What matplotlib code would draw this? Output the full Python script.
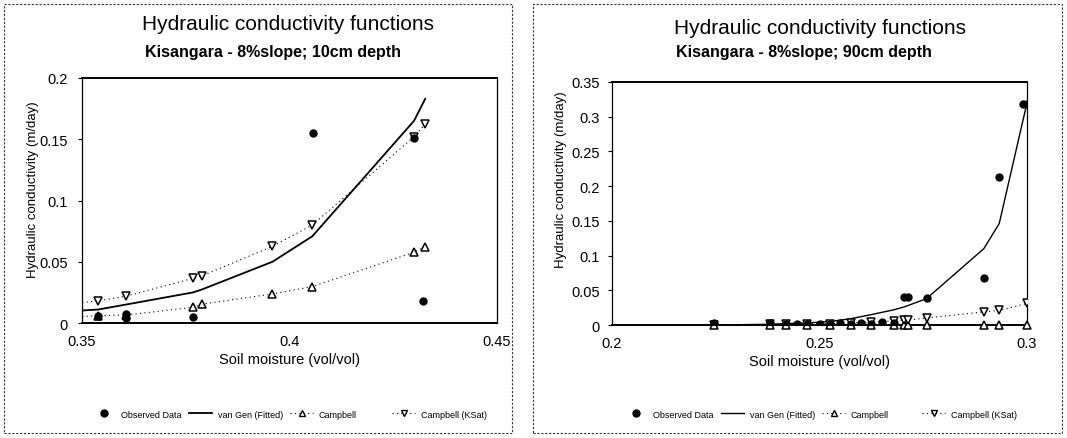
import matplotlib
matplotlib.use("Agg")
import matplotlib.pyplot as plt
from matplotlib.patches import Rectangle
from matplotlib.lines import Line2D

plt.rcParams['font.family'] = ['Liberation Sans', 'DejaVu Sans']

# ---- 10 cm depth ----
obs_theta_10 = [0.3539, 0.3605, 0.3605, 0.3767, 0.4057, 0.4301, 0.4322]
obs_k_10 = [0.0055, 0.0040, 0.0070, 0.0047, 0.1550, 0.1510, 0.0180]

mod_theta_10 = [0.3490, 0.3539, 0.3605, 0.3768, 0.3790, 0.3959, 0.4055, 0.4300, 0.4327]
vangen_10 = [0.0100, 0.0110, 0.0150, 0.0250, 0.0275, 0.0500, 0.0708, 0.1650, 0.1830]
campbell_10 = [0.0050, 0.0060, 0.0065, 0.0128, 0.0155, 0.0237, 0.0297, 0.0577, 0.0623]
campbell_ksat_10 = [0.0160, 0.0182, 0.0218, 0.0365, 0.0386, 0.0626, 0.0800, 0.1520, 0.1624]

# ---- 90 cm depth ----
obs_theta_90 = [0.2246, 0.2380, 0.2420, 0.2445, 0.2470, 0.2500, 0.2525, 0.2550, 0.2575,
                0.2600, 0.2625, 0.2650, 0.2680, 0.2704, 0.2713, 0.2758, 0.2896, 0.2933,
                0.2990, 0.3000]
obs_k_90 = [0.003, 0.003, 0.001, 0.002, 0.001, 0.002, 0.001, 0.003, 0.002,
            0.003, 0.002, 0.004, 0.003, 0.040, 0.040, 0.039, 0.068, 0.213,
            0.318, 0.318]

mod_theta_90 = [0.2246, 0.2380, 0.2420, 0.2470, 0.2525, 0.2575, 0.2625, 0.2680, 0.2704,
                0.2713, 0.2758, 0.2896, 0.2933, 0.3000]
vangen_90 = [0.000, 0.001, 0.002, 0.003, 0.005, 0.009, 0.015, 0.022, 0.026,
             0.028, 0.038, 0.110, 0.146, 0.320]
campbell_90 = [0.000, 0.000, 0.000, 0.000, 0.000, 0.000, 0.000, 0.000, 0.000,
               0.000, 0.000, 0.000, 0.000, 0.000]
campbell_ksat_90 = [0.000, 0.001, 0.001, 0.002, 0.002, 0.003, 0.004, 0.006, 0.007,
                    0.007, 0.010, 0.019, 0.021, 0.031]

series_labels = ["Observed Data", "van Gen (Fitted)", "Campbell", "Campbell (KSat)"]
title_main = "Hydraulic conductivity functions"
subtitles = ["Kisangara - 8%slope; 10cm depth", "Kisangara - 8%slope; 90cm depth"]
xlabel = "Soil moisture (vol/vol)"
ylabel = "Hydraulic conductivity (m/day)"

W, H = 1067, 439
fig = plt.figure(figsize=(W / 100, H / 100), dpi=100)

DOT = (0, (1, 3))


def px_rect(x0, y0, x1, y1):
    return [x0 / W, 1 - y1 / H, (x1 - x0) / W, (y1 - y0) / H]


def draw_panel(rect_px, box_px, title_px, sub_px, obs_x, obs_y, mx, vg, cb, ks,
               xlim, ylim, xticks, yticks, ylabel_px, legend_px, sub, vg_lw, tick_pad):
    # dotted panel border
    bx0, by0, bx1, by1 = box_px
    fig.patches.append(Rectangle((bx0 / W, 1 - by1 / H), (bx1 - bx0) / W, (by1 - by0) / H,
                                 transform=fig.transFigure, fill=False, edgecolor='#333333',
                                 linewidth=0.8, linestyle=(0, (2, 1.5))))
    ax = fig.add_axes(px_rect(*rect_px))
    ax.plot(mx, vg, color='black', lw=vg_lw, zorder=3)
    ax.plot(mx, cb, color='black', lw=0.8, ls=DOT, marker='^', ms=5.5,
            mfc='white', mec='black', mew=1.1, zorder=4, clip_on=(min(cb) > ylim[0]))
    ax.plot(mx, ks, color='black', lw=0.8, ls=DOT, marker='v', ms=5.5,
            mfc='white', mec='black', mew=1.1, zorder=4)
    ax.plot(obs_x, obs_y, ls='none', marker='o', ms=5, color='black', zorder=5)
    ax.set_xlim(*xlim)
    ax.set_ylim(*ylim)
    ax.set_xticks(xticks)
    ax.set_xticklabels([f"{t:g}" for t in xticks], fontsize=10.5)
    ax.set_yticks(yticks)
    ax.set_yticklabels([f"{t:g}" for t in yticks], fontsize=10.5)
    ax.tick_params(axis='y', direction='out', length=3, width=0.8, pad=tick_pad)
    ax.tick_params(axis='x', direction='out', length=0, pad=8)
    for s in ax.spines.values():
        s.set_linewidth(0.9)
    ax.spines['top'].set_linewidth(1.4)
    ax.spines['bottom'].set_linewidth(1.4)
    ax.spines['right'].set_linestyle((0, (3, 1)))
    ax.set_xlabel(xlabel, fontsize=10.5, labelpad=3)
    fig.text(ylabel_px[0] / W, 1 - ylabel_px[1] / H, ylabel, rotation=90, fontsize=9.5,
             ha='center', va='center')
    fig.text(title_px[0] / W, 1 - title_px[1] / H, title_main, fontsize=15,
             ha='left', va='center')
    fig.text(sub_px[0] / W, 1 - sub_px[1] / H, sub, fontsize=11.5, fontweight='bold',
             ha='left', va='center')
    h_obs = Line2D([], [], ls='none', marker='o', ms=5, color='black')
    h_vg = Line2D([], [], color='black', lw=vg_lw)
    h_cb = Line2D([], [], color='black', lw=0.8, ls=DOT, marker='^', ms=5,
                  mfc='white', mec='black')
    h_ks = Line2D([], [], color='black', lw=0.8, ls=DOT, marker='v', ms=5,
                  mfc='white', mec='black')
    # fig.legend registers each legend with the figure, so both are drawn once
    fig.legend([h_obs, h_vg, h_cb], series_labels[:3], loc='center left', ncol=3,
               frameon=False, bbox_to_anchor=(legend_px[0] / W, 1 - legend_px[2] / H),
               fontsize=6.5, handlelength=2.6, columnspacing=0.8, handletextpad=0.6,
               borderaxespad=0, borderpad=0)
    fig.legend([h_ks], series_labels[3:], loc='center left', frameon=False,
               bbox_to_anchor=(legend_px[1] / W, 1 - legend_px[2] / H),
               fontsize=6.5, handlelength=2.6, handletextpad=0.6,
               borderaxespad=0, borderpad=0)
    return ax


draw_panel((82, 79, 497, 324), (4, 5, 512, 434), (142, 25), (145, 52),
           obs_theta_10, obs_k_10, mod_theta_10, vangen_10, campbell_10, campbell_ksat_10,
           (0.35, 0.45), (0, 0.2), [0.35, 0.4, 0.45], [0, 0.05, 0.1, 0.15, 0.2],
           (33, 190), (92, 392, 415), subtitles[0], 1.3, 7)

draw_panel((612, 83, 1027, 326), (533, 5, 1062, 434), (674, 28), (676, 53),
           obs_theta_90, obs_k_90, mod_theta_90, vangen_90, campbell_90, campbell_ksat_90,
           (0.2, 0.3), (0, 0.35), [0.2, 0.25, 0.3],
           [0, 0.05, 0.1, 0.15, 0.2, 0.25, 0.3, 0.35],
           (561, 180), (624, 922, 415), subtitles[1], 1.0, 6)

fig.savefig("out.png", dpi=100)
